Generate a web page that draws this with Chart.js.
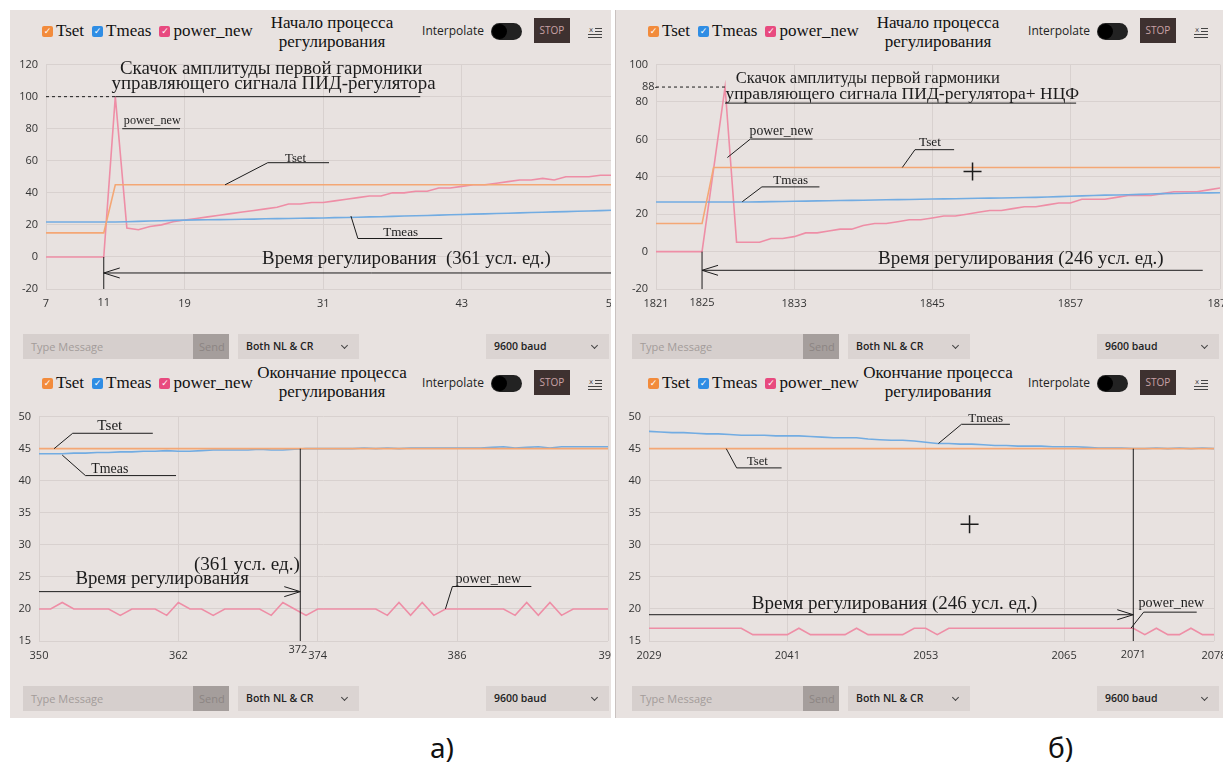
<!DOCTYPE html>
<html lang="ru">
<head>
<meta charset="utf-8">
<title>Serial plotter</title>
<script src="https://cdn.jsdelivr.net/npm/chart.js@4.4.1/dist/chart.umd.min.js"></script>
<style>
  body { margin: 0; width: 1224px; height: 764px; background: #fff; position: relative; overflow: hidden; font-family: "Open Sans", sans-serif; }
  .panel { position: absolute; background: #e8e2e0; overflow: hidden; }
  .legend { position: absolute; top: 11px; display: flex; align-items: center; font-family: "Liberation Serif", serif; font-size: 17px; color: #111; }
  .box { width: 11px; height: 11px; border-radius: 2px; color: #fff; font: bold 9px/11px "DejaVu Sans", sans-serif; text-align: center; margin-right: 3px; }
  .legend .t { margin-right: 8px; }
  .title { position: absolute; width: 240px; text-align: center; font-family: "Liberation Serif", serif; font-size: 17px; line-height: 19px; color: #111; }
  .interp { position: absolute; top: 12px; font-size: 12px; color: #222; }
  .toggle { position: absolute; top: 13px; width: 31px; height: 17px; border-radius: 9px; background: #222; }
  .toggle::after { content: ""; position: absolute; left: 1px; top: 1px; width: 15px; height: 15px; border-radius: 50%; background: #000; }
  .stop { position: absolute; top: 8px; width: 36px; height: 25px; background: #3e3130; color: #c9a2a6; font-size: 10px; line-height: 25px; text-align: center; }
  .ico { position: absolute; top: 13px; }
  .plot { position: absolute; left: 0; top: 40px; }
  .fld { position: absolute; top: 324px; height: 25px; line-height: 25px; font-size: 11px; box-sizing: border-box; padding-left: 8px; }
  .tm { background: #d6cfcd; color: #a39c9a; }
  .send { background: #a59e9c; color: #8c8583; padding-left: 6px; }
  .sel { background: #dbd4d2; color: #222; font-size: 10.5px; font-weight: 600; }
  .sel::after { content: ""; position: absolute; right: 12px; top: 9px; width: 4px; height: 4px; border-right: 1.3px solid #444; border-bottom: 1.3px solid #444; transform: rotate(45deg); }
  .cap { position: absolute; top: 728px; font-family: "Noto Sans", sans-serif; font-size: 28px; color: #111; }
</style>
</head>
<body>
<div class="cap" style="left:430px">а)</div>
<div class="cap" style="left:1048px">б)</div>
<script>
function seq(a, b) { const r = []; for (let v = a; v <= b; v++) r.push(v); return r; }

// ---------- а) начало процесса ----------
const samplesA1 = seq(7, 56);
const xTicksA1 = [7, 19, 31, 43, 56];
const yTicksA1 = [-20, 0, 20, 40, 60, 80, 100, 120];
const tsetA1 = [15,15,15,15,15,15,45,45,45,45,45,45,45,45,45,45,45,45,45,45,45,45,45,45,45,45,45,45,45,45,45,45,45,45,45,45,45,45,45,45,45,45,45,45,45,45,45,45,45,45];
const tmeasA1 = [21.8,21.8,21.8,21.8,21.8,21.8,21.8,22.0,22.2,22.4,22.6,22.8,23.0,23.1,23.2,23.3,23.4,23.5,23.6,23.8,23.9,24.0,24.1,24.2,24.3,24.5,24.6,24.8,25.0,25.1,25.3,25.5,25.7,25.9,26.1,26.3,26.5,26.7,26.9,27.1,27.3,27.5,27.7,27.9,28.1,28.3,28.5,28.7,28.9,29.1];
const powerA1 = [0,0,0,0,0,0,100,18,17,19,20,22,23,24,25,26,27,28,29,30,31,33,33,34,34,35,36,37,38,38,40,40,41,41,43,43,44,45,45,46,47,48,48,49,48,50,50,50,51,51];

// ---------- б) начало процесса ----------
const samplesB1 = seq(1821, 1870);
const xTicksB1 = [1821, 1833, 1845, 1857, 1870];
const yTicksB1 = [-20, 0, 20, 40, 60, 80, 100];
const tsetB1 = [15,15,15,15,15,45,45,45,45,45,45,45,45,45,45,45,45,45,45,45,45,45,45,45,45,45,45,45,45,45,45,45,45,45,45,45,45,45,45,45,45,45,45,45,45,45,45,45,45,45];
const tmeasB1 = [26.5,26.5,26.5,26.5,26.5,26.5,26.5,26.5,26.5,26.6,26.7,26.8,26.9,27.0,27.1,27.2,27.3,27.4,27.5,27.6,27.7,27.8,27.9,28.0,28.1,28.2,28.3,28.4,28.5,28.6,28.7,28.8,28.9,29.0,29.2,29.4,29.6,29.8,30.0,30.2,30.3,30.4,30.6,30.8,31.0,31.1,31.2,31.3,31.4,31.5];
const powerB1 = [0,0,0,0,0,44,88,5,5,5,7,7,8,10,10,11,12,12,14,15,15,16,17,17,18,19,19,20,21,22,22,23,24,24,25,26,26,28,28,28,29,30,30,30,31,32,32,32,33,34];

// ---------- а) окончание процесса ----------
const samplesA2 = seq(350, 399);
const xTicksA2 = [350, 362, 374, 386, 399];
const yTicksA2 = [15, 20, 25, 30, 35, 40, 45, 50];
const tsetA2 = [45,45,45,45,45,45,45,45,45,45,45,45,45,45,45,45,45,45,45,45,45,45,45,45,45,45,45,45,45,45,45,45,45,45,45,45,45,45,45,45,45,45,45,45,45,45,45,45,45,45];
const tmeasA2 = [44.2,44.2,44.2,44.3,44.3,44.4,44.4,44.5,44.5,44.6,44.6,44.7,44.6,44.6,44.7,44.8,44.8,44.8,44.8,44.9,44.8,44.8,44.9,45.0,45.0,45.0,45.0,45.0,45.1,45.0,45.1,45.0,45.1,45.1,45.1,45.1,45.1,45.1,45.1,45.2,45.3,45.1,45.2,45.3,45.1,45.3,45.3,45.3,45.3,45.3];
const powerA2 = [20,20,21,20,20,20,20,19,20,20,20,19,21,20,20,19,20,20,20,20,19,21,20,19,20,20,20,20,20,20,19,21,19,21,19,20,20,20,20,20,20,19,21,19,21,19,20,20,20,20];

// ---------- б) окончание процесса ----------
const samplesB2 = seq(2029, 2078);
const xTicksB2 = [2029, 2041, 2053, 2065, 2078];
const yTicksB2 = [15, 20, 25, 30, 35, 40, 45, 50];
const tsetB2 = [45,45,45,45,45,45,45,45,45,45,45,45,45,45,45,45,45,45,45,45,45,45,45,45,45,45,45,45,45,45,45,45,45,45,45,45,45,45,45,45,45,45,45,45,45,45,45,45,45,45];
const tmeasB2 = [47.7,47.6,47.5,47.5,47.4,47.3,47.3,47.2,47.1,47.1,47.1,47.0,47.0,47.0,46.9,46.8,46.7,46.7,46.7,46.5,46.4,46.3,46.3,46.2,46.0,45.8,45.8,45.7,45.7,45.6,45.5,45.5,45.4,45.4,45.4,45.3,45.3,45.3,45.2,45.1,45.1,45.1,45.0,45.0,45.1,45.0,45.1,45.0,45.1,45.0];
const powerB2 = [17,17,17,17,17,17,17,17,17,16,16,16,16,17,16,16,16,16,17,16,16,16,16,17,17,16,17,17,17,17,17,17,17,17,17,17,17,17,17,17,17,17,17,16,17,16,16,17,16,16];

const COLORS = { tset: '#f4a775', tmeas: '#72ace2', power: '#ee8ea6' };
const BOXES = { tset: '#f28b3c', tmeas: '#2f8de4', power: '#e84a7f' };
const GRID = '#d8d1cf';
const INK = '#1c1c1c';
const TITLE_TOP = ['Начало процесса', 'регулирования'];
const TITLE_END = ['Окончание процесса', 'регулирования'];
const TEXT_JUMP = 'Скачок амплитуды первой гармоники';

const panels = [
  { left: 10, top: 10, w: 601, h: 352, title: TITLE_TOP, titleTop: 3, yW: 36, lastX: 602,
    x: samplesA1, tset: tsetA1, tmeas: tmeasA1, power: powerA1, xTicks: xTicksA1, yTicks: yTicksA1, bar: [13, 183, 219, 228, 349, 476, 599],
    notes: [
      { k: 'line', p: [[7, 100], [13, 100]], dash: true },
      { k: 'line', p: [[13, 100], [39.4, 100]] },
      { k: 'text', s: TEXT_JUMP, x: 26.5, y: 117, w: 303 },
      { k: 'text', s: 'управляющего сигнала ПИД-регулятора', x: 26.7, y: 108, w: 324 },
      { k: 'line', p: [[13.6, 80], [18.6, 80]] },
      { k: 'text', s: 'power_new', x: 16.2, y: 84.8, w: 57 },
      { k: 'line', p: [[22.5, 45], [26.2, 58.8], [31.5, 58.8]] },
      { k: 'text', s: 'Tset', x: 28.6, y: 61.5, w: 21 },
      { k: 'line', p: [[33.4, 25.5], [34.0, 11.5], [41.3, 11.5]] },
      { k: 'text', s: 'Tmeas', x: 37.7, y: 15, w: 35 },
      { k: 'line', p: [[12, 0], [12, -20]] },
      { k: 'line', p: [[12, -10], [60, -10]] },
      { k: 'head', x: 12, y: -10, dir: -1 },
      { k: 'text', s: 'Время регулирования  (361 усл. ед.)', x: 38.2, y: -1.2, w: 289 },
      { k: 'tick', s: '11', x: 12 }
    ] },
  { left: 615, top: 10, w: 607, h: 352, title: TITLE_TOP, titleTop: 3, yW: 40, lastX: 604,
    x: samplesB1, tset: tsetB1, tmeas: tmeasB1, power: powerB1, xTicks: xTicksB1, yTicks: yTicksB1, bar: [16, 187, 223, 232, 354, 481, 603],
    notes: [
      { k: 'line', p: [[1821, 88], [1827, 88]], dash: true },
      { k: 'ytick', s: '88-', y: 88 },
      { k: 'line', p: [[1827, 79.4], [1857.5, 79.4]] },
      { k: 'text', s: TEXT_JUMP, x: 1839.4, y: 92.7, w: 264 },
      { k: 'text', s: 'управляющего сигнала ПИД-регулятора+ НЦФ', x: 1842.4, y: 84, w: 354 },
      { k: 'line', p: [[1827.2, 50.3], [1829.2, 60.2], [1834.6, 60.2]] },
      { k: 'text', s: 'power_new', x: 1831.9, y: 64.4, w: 64 },
      { k: 'line', p: [[1842.4, 45], [1843.5, 54.5], [1846.9, 54.5]] },
      { k: 'text', s: 'Tset', x: 1844.8, y: 58.1, w: 22 },
      { k: 'line', p: [[1828.5, 26.7], [1830.2, 34.6], [1835.2, 34.6]] },
      { k: 'text', s: 'Tmeas', x: 1832.7, y: 38.2, w: 35 },
      { k: 'cross', x: 1848.5, y: 42.9 },
      { k: 'line', p: [[1825, 0], [1825, -20]] },
      { k: 'line', p: [[1825, -10], [1868.5, -10]] },
      { k: 'head', x: 1825, y: -10, dir: -1 },
      { k: 'text', s: 'Время регулирования (246 усл. ед.)', x: 1852.7, y: -4.2, w: 286 },
      { k: 'tick', s: '1825', x: 1825 }
    ] },
  { left: 10, top: 362, w: 601, h: 356, title: TITLE_END, titleTop: 1, yW: 29, lastX: 598,
    x: samplesA2, tset: tsetA2, tmeas: tmeasA2, power: powerA2, xTicks: xTicksA2, yTicks: yTicksA2, bar: [13, 183, 219, 228, 349, 476, 599],
    notes: [
      { k: 'line', p: [[351.3, 45], [352.9, 47.4], [359.8, 47.4]] },
      { k: 'text', s: 'Tset', x: 356.1, y: 48.5, w: 25 },
      { k: 'line', p: [[352, 44], [354, 40.8], [361.8, 40.8]] },
      { k: 'text', s: 'Tmeas', x: 356.1, y: 41.8, w: 37 },
      { k: 'line', p: [[372.5, 45], [372.5, 15]] },
      { k: 'text', s: '(361 усл. ед.)', x: 367.9, y: 26.8, w: 106 },
      { k: 'text', s: 'Время регулирования', x: 360.6, y: 24.7, w: 174 },
      { k: 'line', p: [[350, 22.7], [372.5, 22.7]] },
      { k: 'head', x: 372.5, y: 22.7, dir: 1 },
      { k: 'line', p: [[385, 20], [385.6, 23.5], [392.4, 23.5]] },
      { k: 'text', s: 'power_new', x: 388.7, y: 24.7, w: 66 },
      { k: 'tick', s: '372', x: 372.3, dy: -5 }
    ] },
  { left: 615, top: 362, w: 607, h: 356, title: TITLE_END, titleTop: 1, yW: 33, lastX: 598,
    x: samplesB2, tset: tsetB2, tmeas: tmeasB2, power: powerB2, xTicks: xTicksB2, yTicks: yTicksB2, bar: [16, 187, 223, 232, 354, 481, 603],
    notes: [
      { k: 'line', p: [[2054.1, 45.8], [2056.1, 48.8], [2060.3, 48.8]] },
      { k: 'text', s: 'Tmeas', x: 2058.2, y: 49.7, w: 35 },
      { k: 'line', p: [[2035.7, 45], [2036.6, 42], [2040.5, 42]] },
      { k: 'text', s: 'Tset', x: 2038.4, y: 43.0, w: 21 },
      { k: 'cross', x: 2056.8, y: 33.2 },
      { k: 'line', p: [[2071, 45], [2071, 15]] },
      { k: 'text', s: 'Время регулирования (246 усл. ед.)', x: 2050.3, y: 20.8, w: 286 },
      { k: 'line', p: [[2029, 19.1], [2071, 19.1]] },
      { k: 'head', x: 2071, y: 19.1, dir: 1 },
      { k: 'line', p: [[2070.8, 17], [2071.9, 19.5], [2076.5, 19.5]] },
      { k: 'text', s: 'power_new', x: 2074.3, y: 20.9, w: 66 },
      { k: 'tick', s: '2071', x: 2071 }
    ] }
];

function drawNotes(chart, notes) {
  const ctx = chart.ctx, xs = chart.scales.x, ys = chart.scales.y;
  const X = v => xs.getPixelForValue(v), Y = v => ys.getPixelForValue(v);
  ctx.save();
  notes.forEach(n => {
    ctx.strokeStyle = INK; ctx.fillStyle = INK; ctx.lineWidth = 1;
    ctx.setLineDash(n.dash ? [3, 3] : []);
    if (n.k === 'line') {
      ctx.beginPath();
      n.p.forEach(([a, b], i) => i ? ctx.lineTo(X(a), Y(b)) : ctx.moveTo(X(a), Y(b)));
      ctx.stroke();
    } else if (n.k === 'head') {
      const tx = X(n.x), ty = Y(n.y);
      ctx.beginPath();
      ctx.moveTo(tx - n.dir * 16, ty - 5); ctx.lineTo(tx, ty); ctx.lineTo(tx - n.dir * 16, ty + 5);
      ctx.stroke();
    } else if (n.k === 'cross') {
      const cx = X(n.x), cy = Y(n.y);
      ctx.lineWidth = 1.5;
      ctx.beginPath();
      ctx.moveTo(cx - 9, cy); ctx.lineTo(cx + 9, cy); ctx.moveTo(cx, cy - 9); ctx.lineTo(cx, cy + 9);
      ctx.stroke();
    } else if (n.k === 'text') {
      ctx.font = '20px "Liberation Serif"';
      const size = 20 * n.w / ctx.measureText(n.s).width;
      ctx.font = size.toFixed(1) + 'px "Liberation Serif"';
      ctx.textAlign = 'center'; ctx.textBaseline = 'middle';
      ctx.fillText(n.s, X(n.x), Y(n.y));
    } else if (n.k === 'tick') {
      ctx.font = '11px "Open Sans"'; ctx.fillStyle = '#333';
      ctx.textAlign = 'center'; ctx.textBaseline = 'top';
      ctx.fillText(n.s, X(n.x), xs.top + 8 + (n.dy || 0));
    } else if (n.k === 'ytick') {
      ctx.font = '11px "Open Sans"'; ctx.fillStyle = '#333';
      ctx.textAlign = 'right'; ctx.textBaseline = 'middle';
      ctx.fillText(n.s, ys.right + 2, Y(n.y));
    }
  });
  ctx.restore();
}

function addEl(parent, cls, style, html) {
  const d = document.createElement('div');
  d.className = cls;
  Object.assign(d.style, style);
  if (html !== undefined) d.innerHTML = html;
  parent.appendChild(d);
  return d;
}

panels.forEach(p => {
  const el = addEl(document.body, 'panel', { left: p.left + 'px', top: p.top + 'px', width: p.w + 'px', height: p.h + 'px' });
  if (p.left > 600) el.style.borderLeft = '1px solid #c9c2c0';

  // toolbar
  addEl(el, 'legend', { left: '32px' },
    `<div class="box" style="background:${BOXES.tset}">✓</div><span class="t">Tset</span>` +
    `<div class="box" style="background:${BOXES.tmeas}">✓</div><span class="t">Tmeas</span>` +
    `<div class="box" style="background:${BOXES.power}">✓</div><span>power_new</span>`);
  addEl(el, 'title', { left: '202px', top: p.titleTop + 'px' }, p.title.join('<br>'));
  addEl(el, 'interp', { right: (p.w - 474) + 'px' }, 'Interpolate');
  addEl(el, 'toggle', { left: '481px' });
  addEl(el, 'stop', { left: '524px' }, 'STOP');
  addEl(el, 'ico', { left: '577px' },
    '<svg width="16" height="14"><text x="2" y="6" font-size="7" font-family="DejaVu Sans" fill="#444">x</text>' +
    '<line x1="8" y1="2.5" x2="15" y2="2.5" stroke="#444"/><line x1="8" y1="5.5" x2="15" y2="5.5" stroke="#444"/>' +
    '<line x1="1" y1="8.5" x2="15" y2="8.5" stroke="#444"/><line x1="1" y1="11.5" x2="15" y2="11.5" stroke="#444"/></svg>');

  // bottom bar
  const b = p.bar;
  addEl(el, 'fld tm', { left: b[0] + 'px', width: (b[1] - b[0]) + 'px' }, 'Type Message');
  addEl(el, 'fld send', { left: b[1] + 'px', width: (b[2] - b[1]) + 'px' }, 'Send');
  addEl(el, 'fld sel', { left: b[3] + 'px', width: (b[4] - b[3]) + 'px' }, 'Both NL &amp; CR');
  addEl(el, 'fld sel', { left: b[5] + 'px', width: (b[6] - b[5]) + 'px' }, '9600 baud');

  // chart
  const padR = 26;
  const box = addEl(el, 'plot', {});
  const cv = document.createElement('canvas');
  cv.width = p.lastX + padR; cv.height = 265;
  box.appendChild(cv);

  const ds = (label, vals, color) => ({
    label, data: p.x.map((v, i) => ({ x: v, y: vals[i] })),
    borderColor: color, backgroundColor: color, borderWidth: 1.6, pointRadius: 0, tension: 0, fill: false
  });
  const tickFont = { family: 'Open Sans', size: 11 };

  new Chart(cv, {
    type: 'line',
    data: { datasets: [ds('Tset', p.tset, COLORS.tset), ds('Tmeas', p.tmeas, COLORS.tmeas), ds('power_new', p.power, COLORS.power)] },
    options: {
      responsive: false, animation: false, devicePixelRatio: 1,
      layout: { padding: { top: 8, right: padR, left: 0, bottom: 0 } },
      plugins: { legend: { display: false }, tooltip: { enabled: false } },
      scales: {
        x: {
          type: 'linear', min: p.x[0], max: p.x[p.x.length - 1],
          afterBuildTicks: s => { s.ticks = p.xTicks.map(v => ({ value: v })); },
          afterFit: s => { s.height = 26; },
          grid: { color: GRID, drawTicks: false }, border: { display: false },
          ticks: { autoSkip: false, maxRotation: 0, padding: 8, color: '#333', font: tickFont, callback: v => String(v) }
        },
        y: {
          min: p.yTicks[0], max: p.yTicks[p.yTicks.length - 1],
          afterBuildTicks: s => { s.ticks = p.yTicks.map(v => ({ value: v })); },
          afterFit: s => { s.width = p.yW; },
          grid: { color: GRID, drawTicks: false }, border: { display: false },
          ticks: { padding: 8, color: '#333', font: tickFont, callback: v => String(v) }
        }
      }
    },
    plugins: [{ id: 'notes', afterDatasetsDraw: c => drawNotes(c, p.notes) }]
  });
});
</script>
</body>
</html>
